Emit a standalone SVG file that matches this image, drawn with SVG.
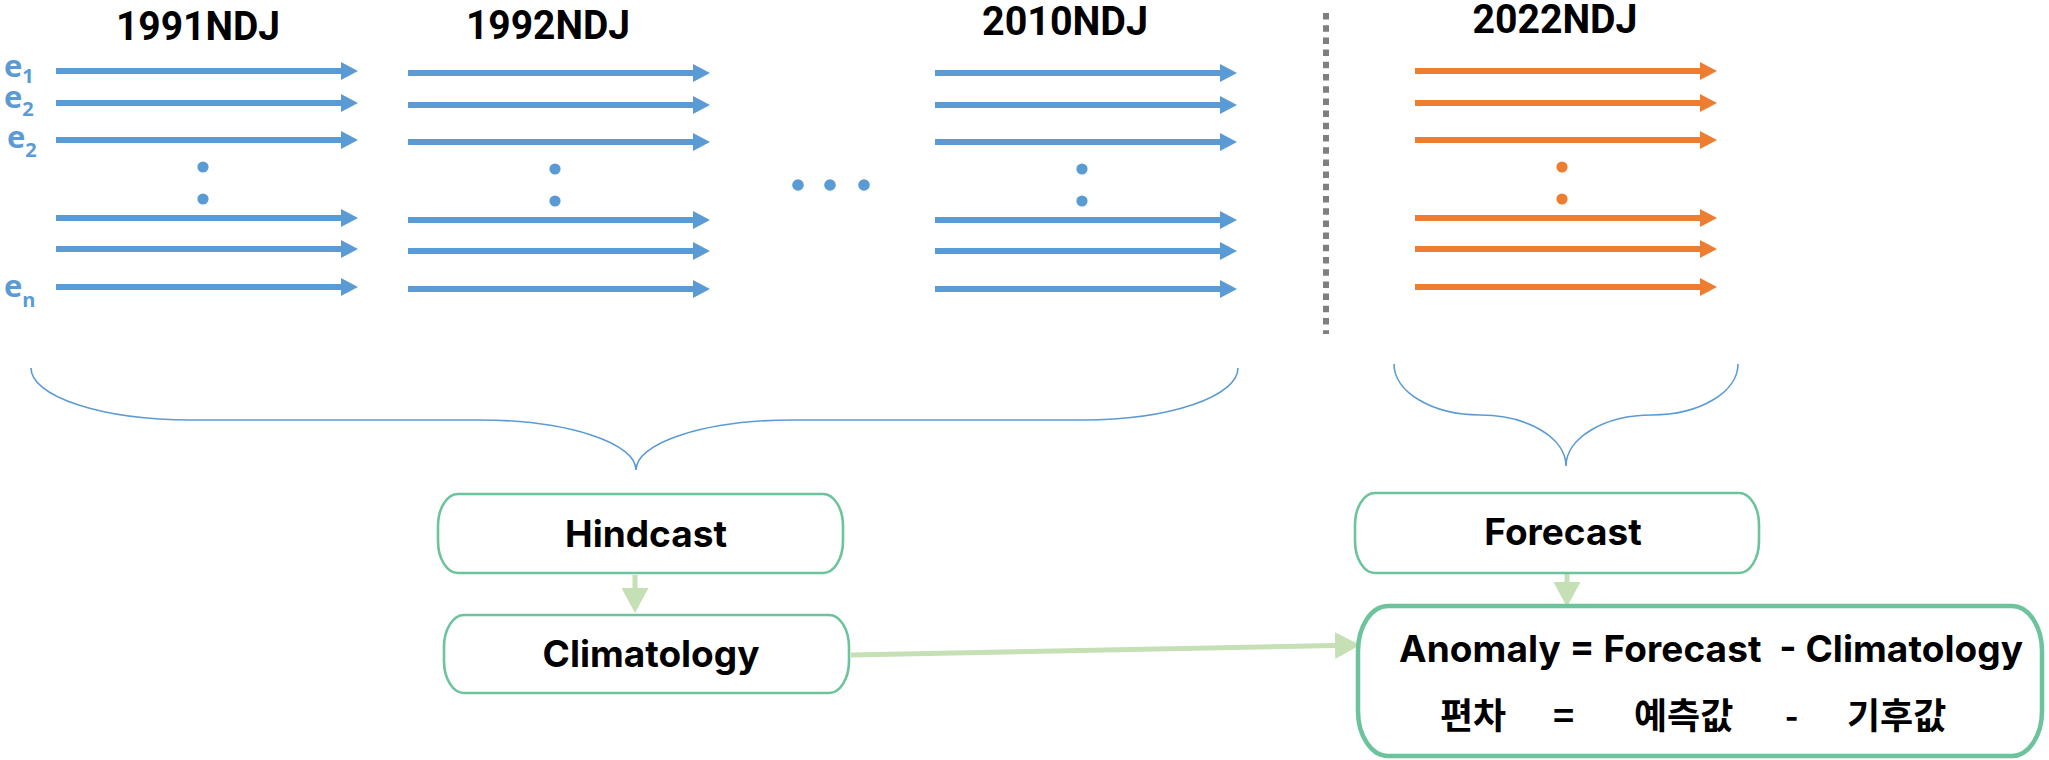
<svg xmlns="http://www.w3.org/2000/svg" width="2049" height="760" viewBox="0 0 2049 760">
  <style>
    .title { font-family: Roboto, "Liberation Sans", sans-serif; font-weight: 700; font-size: 40px; fill: #000; text-anchor: middle; }
    .mem { font-family: "Open Sans", "Noto Sans", sans-serif; font-weight: 700; font-size: 31px; fill: #5b9bd5; }
    .mem .sub { font-size: 20px; }
    .lbl { font-family: Inter, "Noto Sans CJK KR", sans-serif; font-weight: 700; font-size: 37px; fill: #000; text-anchor: middle; }
    .eq { font-family: Inter, "Noto Sans CJK KR", sans-serif; font-weight: 700; font-size: 37px; fill: #000; }
    .ko { font-family: "Noto Sans CJK KR", sans-serif; font-weight: 700; font-size: 36px; fill: #000; }
    .box { fill: #fff; stroke: #6cc39c; stroke-width: 2.6; }
    .box-main { fill: #fff; stroke: #6cc39c; stroke-width: 4.5; }
    .brace { fill: none; stroke: #5b9bd5; stroke-width: 1.6; }
    .flow { stroke: #c5e0b4; stroke-width: 5; fill: none; marker-end: url(#head); }
  </style>
  <defs>
    <marker id="head" markerUnits="userSpaceOnUse" markerWidth="26" markerHeight="27" viewBox="0 0 26 27" refX="0" refY="13.5" orient="auto">
      <path d="M0,0 L25,13.5 L0,27 Z" fill="#c5e0b4"/>
    </marker>
    <!-- one ensemble: six member arrows plus the two ellipsis dots -->
    <g id="ensemble">
      <path d="M0,-3 H285 V-9 L302,0 L285,9 V3 H0 Z"/>
      <path d="M0,29 H285 V23 L302,32 L285,41 V35 H0 Z"/>
      <path d="M0,66 H285 V60 L302,69 L285,78 V72 H0 Z"/>
      <circle cx="147" cy="96" r="5.6"/>
      <circle cx="147" cy="128" r="5.6"/>
      <path d="M0,144 H285 V138 L302,147 L285,156 V150 H0 Z"/>
      <path d="M0,175 H285 V169 L302,178 L285,187 V181 H0 Z"/>
      <path d="M0,213 H285 V207 L302,216 L285,225 V219 H0 Z"/>
    </g>
  </defs>

  <rect width="2049" height="760" fill="#fff"/>

  <!-- member labels -->
  <g id="members">
    <text class="mem" x="4" y="77">e<tspan class="sub" dy="6">1</tspan></text>
    <text class="mem" x="4" y="108">e<tspan class="sub" dy="8">2</tspan></text>
    <text class="mem" x="7" y="148">e<tspan class="sub" dy="9">2</tspan></text>
    <text class="mem" x="4" y="297">e<tspan class="sub" dy="10">n</tspan></text>
  </g>

  <g id="y1991" fill="#5b9bd5">
    <text class="title" x="198" y="40" textLength="164" lengthAdjust="spacingAndGlyphs">1991NDJ</text>
    <use href="#ensemble" x="56" y="71"/>
  </g>
  <g id="y1992" fill="#5b9bd5">
    <text class="title" x="548" y="39" textLength="164" lengthAdjust="spacingAndGlyphs">1992NDJ</text>
    <use href="#ensemble" x="408" y="73"/>
  </g>
  <g id="gap" fill="#5b9bd5">
    <circle cx="798" cy="185" r="5.8"/>
    <circle cx="830" cy="185" r="5.8"/>
    <circle cx="864" cy="185" r="5.8"/>
  </g>
  <g id="y2010" fill="#5b9bd5">
    <text class="title" x="1065" y="35" textLength="166" lengthAdjust="spacingAndGlyphs">2010NDJ</text>
    <use href="#ensemble" x="935" y="73"/>
  </g>

  <g id="divider">
    <line x1="1326" y1="13" x2="1326" y2="334" stroke="#7f7f7f" stroke-width="6" stroke-dasharray="6.5 5.7"/>
  </g>

  <g id="y2022" fill="#ed7d31">
    <text class="title" x="1555" y="33" textLength="165" lengthAdjust="spacingAndGlyphs">2022NDJ</text>
    <use href="#ensemble" x="1415" y="71"/>
  </g>

  <!-- braces grouping the years -->
  <g id="brace-hindcast">
    <path class="brace" d="M31,368 A160,52 0 0 0 191,420 H480 A156,50 0 0 1 636,470 A156,50 0 0 1 792,420 H1083 A155,52 0 0 0 1238,368"/>
  </g>
  <g id="brace-forecast">
    <path class="brace" d="M1394,364 A86,51 0 0 0 1480,415 A86,51 0 0 1 1566,466 A86,51 0 0 1 1652,415 A86,51 0 0 0 1738,364"/>
  </g>

  <g id="connectors">
    <line class="flow" x1="635" y1="575" x2="635" y2="588"/>
    <line class="flow" x1="1567" y1="574" x2="1567" y2="582"/>
    <line class="flow" x1="851" y1="655" x2="1335" y2="645.5"/>
  </g>

  <g id="hindcast">
    <rect class="box" x="438" y="494" width="405" height="79" rx="20" ry="32"/>
    <text class="lbl" x="646" y="547">Hindcast</text>
  </g>
  <g id="climatology">
    <rect class="box" x="444" y="615" width="405" height="78" rx="20" ry="32"/>
    <text class="lbl" x="651" y="667">Climatology</text>
  </g>
  <g id="forecast">
    <rect class="box" x="1355" y="493" width="404" height="80" rx="20" ry="32"/>
    <text class="lbl" x="1563" y="545">Forecast</text>
  </g>
  <g id="anomaly">
    <rect class="box-main" x="1358" y="606" width="684" height="150" rx="30" ry="45"/>
    <text class="eq" x="1399" y="662" xml:space="preserve" textLength="624">Anomaly = Forecast  - Climatology</text>
    <text class="ko" y="729"><tspan x="1440">편차</tspan><tspan x="1553">=</tspan><tspan x="1634">예측값</tspan><tspan x="1785">-</tspan><tspan x="1847">기후값</tspan></text>
  </g>
</svg>
